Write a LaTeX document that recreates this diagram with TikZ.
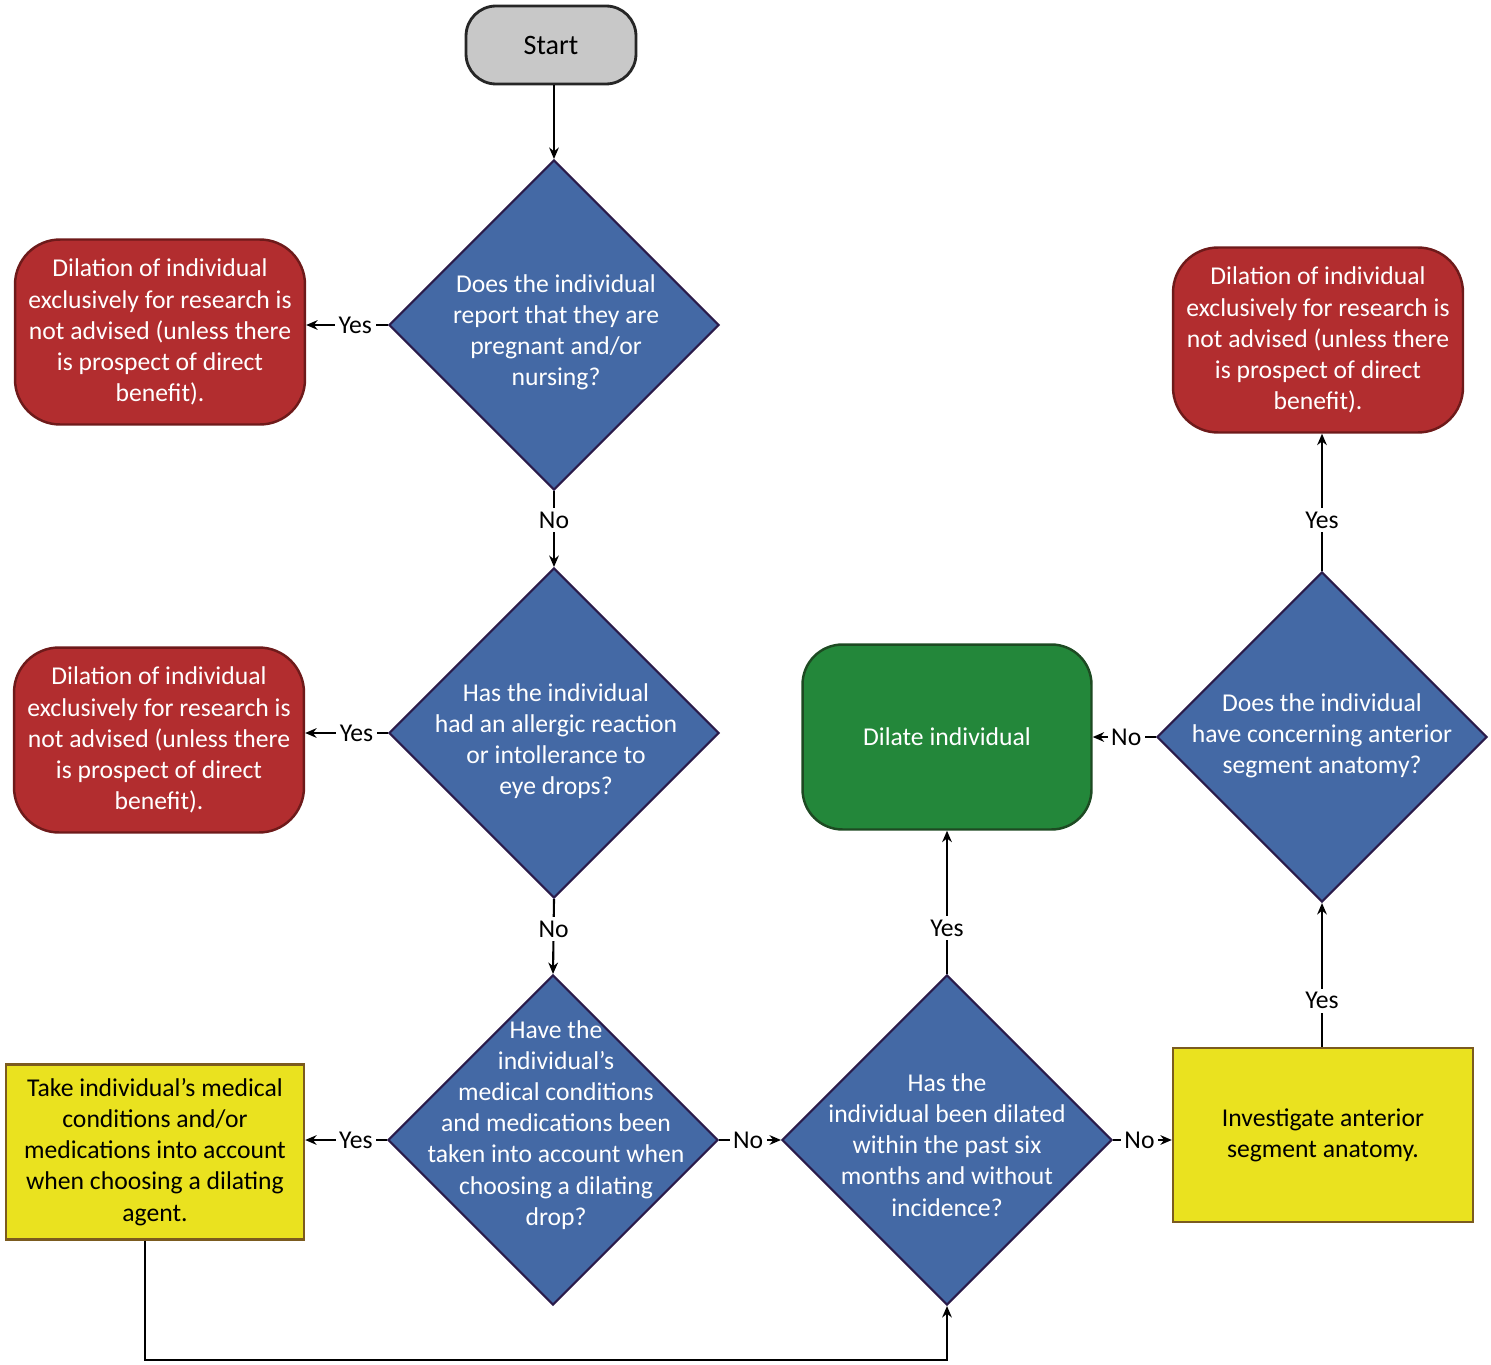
\documentclass[tikz,border=0pt]{standalone}
\usepackage{fontspec}
\setmainfont{Carlito}
\usetikzlibrary{shapes.geometric,arrows.meta}

\definecolor{qblue}{HTML}{4469A5}
\definecolor{qblueline}{HTML}{2A1B4A}
\definecolor{stopred}{HTML}{B22D2F}
\definecolor{stopredline}{HTML}{6E1A1A}
\definecolor{gogreen}{HTML}{23873A}
\definecolor{gogreenline}{HTML}{1D4A22}
\definecolor{noteyellow}{HTML}{EAE21F}
\definecolor{noteyellowline}{HTML}{7B5B1F}
\definecolor{startgray}{HTML}{C8C8C8}

\tikzset{
    txt/.style={font=\fontsize{14.6}{17.7}\selectfont, align=center, inner sep=0pt},
    startbox/.style={draw=black!85, line width=1.6pt, fill=startgray, rounded corners=0.6cm,
        minimum width=3.4cm, minimum height=1.56cm, font=\fontsize{16}{18}\selectfont},
    decision/.style={diamond, draw=qblueline, line width=1.2pt, fill=qblue, inner sep=0pt,
        minimum width=6.6cm, minimum height=6.6cm},
    qtext/.style={txt, text=white},
    stopbox/.style={txt, text=white, draw=stopredline, line width=1.4pt, fill=stopred,
        rounded corners=0.9cm, minimum width=5.8cm, minimum height=3.7cm},
    gobox/.style={txt, text=white, draw=gogreenline, line width=1.4pt, fill=gogreen,
        rounded corners=0.8cm, minimum width=5.78cm, minimum height=3.7cm},
    notebox/.style={txt, draw=noteyellowline, line width=1.4pt, fill=noteyellow,
        minimum width=5.96cm, minimum height=3.5cm},
    conn/.style={draw=black, line width=1.2pt, -{Stealth[length=6.5pt,width=5.5pt]}},
    ans/.style={txt, fill=white, inner sep=2pt}
}

\newcommand{\stoptext}{Dilation of individual\\exclusively for research is\\not advised (unless there\\is prospect of direct\\benefit).}

\begin{document}
\begin{tikzpicture}[x=0.02cm, y=-0.02cm]
    \useasboundingbox (0,0) rectangle (1491,1365);

    % start and the left column of questions
    \node[startbox] (start) at (551,45) {Start};

    \node[decision] (pregnant) at (554,325) {};
    \node[qtext] (pregnanttxt) at (556,332) {Does the individual\\report that they are\\pregnant and/or\\nursing?};
    \node[stopbox] (stopa) at (160,332) {\stoptext};

    \node[decision] (allergy) at (554,733) {};
    \node[qtext] (allergytxt) at (556,741) {Has the individual\\had an allergic reaction\\or intollerance to\\eye drops?};
    \node[stopbox] (stopb) at (159,740) {\stoptext};

    \node[decision] (meds) at (553,1140) {};
    \node[qtext] (medstxt) at (556,1125) {Have the\\individual’s\\medical conditions\\and medications been\\taken into account when\\choosing a dilating\\drop?};
    \node[notebox] (takemeds) at (155,1152) {Take individual’s medical\\conditions and/or\\medications into account\\when choosing a dilating\\agent.};

    % right part
    \node[decision] (dilated) at (947,1140) {};
    \node[qtext] (dilatedtxt) at (947,1145) {Has the\\individual been dilated\\within the past six\\months and without\\incidence?};
    \node[notebox, minimum width=6cm, minimum height=3.48cm] (anatomy) at (1323,1135) {Investigate anterior\\segment anatomy.};

    \node[decision] (concern) at (1322,737) {};
    \node[qtext] (concerntxt) at (1322,736) {Does the individual\\have concerning anterior\\segment anatomy?};
    \node[gobox] (dilate) at (947,737) {Dilate individual};
    \node[stopbox] (stopc) at (1318,340) {\stoptext};

    \coordinate (loopend) at (947,1360);

    % connectors
    \draw[conn] (pregnant.north |- start.south) -- (pregnant.north);
    \draw[conn] (pregnant.west) -- node[ans, pos=0.4] {Yes} (pregnant.west -| stopa.east);
    \draw[conn] (pregnant.south) -- node[ans, pos=0.38] {No} (allergy.north);
    \draw[conn] (allergy.west) -- node[ans, pos=0.38] {Yes} (allergy.west -| stopb.east);
    \draw[conn] (allergy.south) -- node[ans, pos=0.4] {No} (meds.north);
    \draw[conn] (meds.west) -- node[ans, pos=0.38] {Yes} (meds.west -| takemeds.east);
    \draw[conn] (meds.east) -- node[ans, pos=0.47] {No} (dilated.west);
    \draw[conn] (dilated.east) -- node[ans, pos=0.45] {No} (dilated.east -| anatomy.west);
    \draw[conn] (dilated.north) -- node[ans, pos=0.32] {Yes} (dilate.south);
    \draw[conn] (concern.south |- anatomy.north) -- node[ans, pos=0.32] {Yes} (concern.south);
    \draw[conn] (concern.west) -- node[ans, pos=0.47] {No} (dilate.east);
    \draw[conn] (concern.north) -- node[ans, pos=0.37] {Yes} (concern.north |- stopc.south);
    \draw[conn] ([xshift=-0.2cm]takemeds.south) |- (loopend) -- (dilated.south);
\end{tikzpicture}
\end{document}
